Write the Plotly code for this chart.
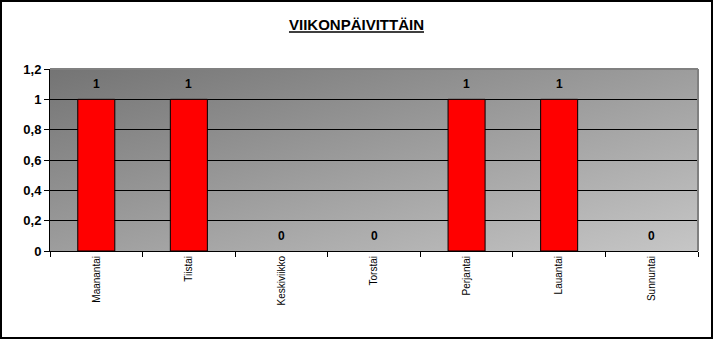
import base64
import plotly.graph_objects as go

days = ["Maanantai", "Tiistai", "Keskiviikko", "Torstai", "Perjantai", "Lauantai", "Sunnuntai"]
counts = [1, 1, 0, 0, 1, 1, 0]
title_text = "VIIKONPÄIVITTÄIN"

W, H = 713, 339
ML, MR, MT, MB = 50, 15, 69, 88
PW, PH = W - ML - MR, H - MT - MB

svg = (
    '<svg xmlns="http://www.w3.org/2000/svg" width="100" height="100" preserveAspectRatio="none">'
    '<defs><linearGradient id="g" x1="0" y1="0" x2="1" y2="1">'
    '<stop offset="0" stop-color="#747474"/><stop offset="1" stop-color="#c6c6c6"/>'
    '</linearGradient></defs><rect width="100" height="100" fill="url(#g)"/></svg>'
)
src = "data:image/svg+xml;base64," + base64.b64encode(svg.encode()).decode()

fig = go.Figure()
fig.add_trace(go.Bar(
    x=days, y=counts,
    marker=dict(color="#ff0000",
                line=dict(color="black", width=[1 if v else 0 for v in counts])),
    width=0.4,
    hoverinfo="skip",
))

for d, v in zip(days, counts):
    fig.add_annotation(x=d, y=v, text="<b>%d</b>" % v, showarrow=False,
                       yshift=15, font=dict(family="Liberation Sans", size=12, color="black"))

fig.add_layout_image(dict(source=src, xref="paper", yref="paper", x=0, y=1,
                          sizex=1, sizey=1, sizing="stretch", layer="below"))

# plot-area border (top and right, gray)
fig.add_shape(type="line", xref="paper", yref="paper", x0=0, x1=1, y0=1, y1=1,
              line=dict(color="#808080", width=2))
fig.add_shape(type="line", xref="paper", yref="paper", x0=1, x1=1, y0=0, y1=1,
              line=dict(color="#808080", width=2))
# chart outer border
fig.add_shape(type="rect", xref="paper", yref="paper",
              x0=(1 - ML) / PW, x1=(W - 1 - ML) / PW,
              y0=(MT + PH - (H - 1)) / PH, y1=(MT + PH - 1) / PH,
              line=dict(color="black", width=2), fillcolor="rgba(0,0,0,0)")

fig.update_layout(
    width=W, height=H,
    margin=dict(l=ML, r=MR, t=MT, b=MB),
    paper_bgcolor="white",
    plot_bgcolor="#a0a0a0",
    separators=", ",
    showlegend=False,
    bargap=0.6,
    title=dict(text="<b><u>%s</u></b>" % title_text, x=0.5, xref="container", xanchor="center",
               y=1 - 25 / H, yanchor="middle",
               font=dict(family="Liberation Sans", size=15, color="black", weight="bold")),
    font=dict(family="Liberation Sans", color="black"),
)

fig.update_xaxes(
    showgrid=False, tickangle=-90, tickson="boundaries", ticks="outside", ticklen=5,
    tickcolor="black", showline=True, linecolor="black", linewidth=1,
    tickfont=dict(family="Liberation Sans", size=10, color="black"),
)
fig.update_yaxes(
    range=[0, 1.2], tickvals=[0, 0.2, 0.4, 0.6, 0.8, 1.0, 1.2],
    showgrid=True, gridcolor="black", gridwidth=1,
    zeroline=True, zerolinecolor="black", zerolinewidth=1,
    showline=True, linecolor="black", linewidth=1,
    ticks="outside", ticklen=5, tickcolor="black",
    tickfont=dict(family="Liberation Sans", size=13, color="black", weight="bold"),
)

fig.write_html("out.html")
